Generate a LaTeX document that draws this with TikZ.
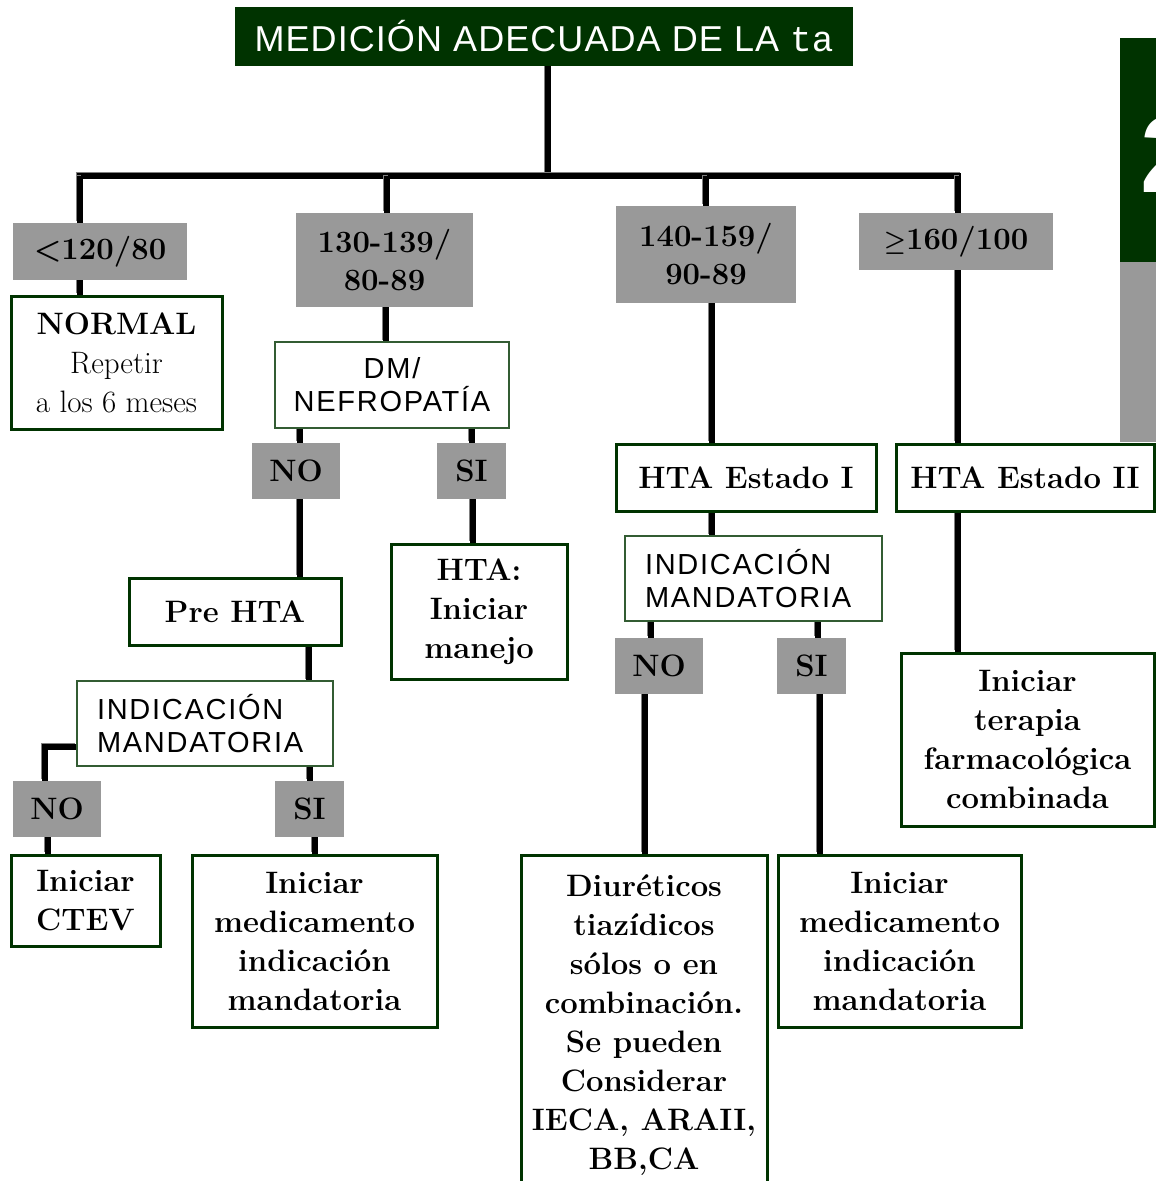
\documentclass[tikz,border=0pt]{standalone}
\usepackage{fontspec}
\setsansfont{Liberation Sans}
\setmonofont{Liberation Mono}
\newfontfamily\labsans[LetterSpace=6]{Liberation Sans}
\newfontfamily\titlesans[LetterSpace=3]{Liberation Sans}
\definecolor{dkgreen}{HTML}{003300}
\definecolor{gbox}{HTML}{999999}
\pgfdeclarelayer{back}
\pgfdeclarelayer{bg}
\pgfsetlayers{back,bg,main}
\begin{document}
\begin{tikzpicture}[x=1pt,y=-1pt,
 graybox/.style={fill=gbox, draw=none, inner sep=0pt, align=center, font=\fontsize{31}{38}\selectfont\bfseries},
 thickbox/.style={draw=dkgreen, line width=3pt, fill=white, inner sep=0pt, align=center, font=\fontsize{31}{39}\selectfont\bfseries},
 thinbox/.style={draw=dkgreen!80!white, line width=1.5pt, fill=white, inner sep=0pt, font=\labsans\fontsize{29}{33}\selectfont},
 conn/.style={line width=5.5pt, black, line join=miter, preaction={draw=gray, line width=5.5pt, transform canvas={xshift=-1.5pt,yshift=1.5pt}}},
]
\clip (0,0) rectangle (1156,1181);
\begin{pgfonlayer}{back}
\fill[white] (0,0) rectangle (1156,1181);
\end{pgfonlayer}

% right edge decoration
\fill[dkgreen] (1120,38) rectangle (1156,262);
\fill[gbox] (1120,262) rectangle (1156,442);
\begin{scope}
\clip (1120,38) rectangle (1156,262);
\node[anchor=west, text=white, inner sep=0pt, font=\sffamily\bfseries\fontsize{109}{109}\selectfont] (two) at (1140,154) {2};
\end{scope}

% title
\node[fill=dkgreen, minimum width=618pt, minimum height=59pt, inner sep=0pt, text=white, font=\titlesans\fontsize{36}{40}\selectfont] (title) at (544,36.5) {MEDICIÓN ADECUADA DE LA {\ttfamily ta}};

% gray range boxes
\node[graybox, minimum width=174pt, minimum height=57pt] (g1) at (100,251.5) {<120/80};
\node[graybox, minimum width=177pt, minimum height=94pt] (g2) at (384.5,260) {130-139/\\80-89};
\node[graybox, minimum width=180pt, minimum height=97pt] (g3) at (706,254.5) {140-159/\\90-89};
\node[graybox, minimum width=194pt, minimum height=57pt] (g4) at (956,241.5) {{\boldmath$\geq$}160/100};

% NO / SI boxes
\node[graybox, minimum width=88pt, minimum height=56pt] (no1) at (296,471) {NO};
\node[graybox, minimum width=69pt, minimum height=56pt] (si1) at (471.5,471) {SI};
\node[graybox, minimum width=88pt, minimum height=56pt] (no2) at (57,809) {NO};
\node[graybox, minimum width=69pt, minimum height=56pt] (si2) at (309.5,809) {SI};
\node[graybox, minimum width=88pt, minimum height=56pt] (no3) at (659,666) {NO};
\node[graybox, minimum width=69pt, minimum height=56pt] (si3) at (811.5,666) {SI};

% thick bordered boxes
\node[thickbox, minimum width=211pt, minimum height=133pt] (normal) at (116.5,362.5) {NORMAL\\{\mdseries Repetir}\\{\mdseries a los 6 meses}};
\node[thickbox, minimum width=176pt, minimum height=135pt] (htaman) at (479,611.5) {HTA:\\Iniciar\\manejo};
\node[thickbox, minimum width=212pt, minimum height=67pt] (prehta) at (235,611.5) {Pre HTA};
\node[thickbox, minimum width=149pt, minimum height=91pt] (ctev) at (85.5,900.5) {Iniciar\\CTEV};
\node[thickbox, minimum width=245pt, minimum height=172pt] (med1) at (314.5,941) {Iniciar\\medicamento\\indicación\\mandatoria};
\node[thickbox, minimum width=260pt, minimum height=67pt] (est1) at (746,477.5) {HTA Estado I};
\node[thickbox, minimum width=258pt, minimum height=67pt] (est2) at (1025,477.5) {HTA Estado II};
\node[thickbox, minimum width=246pt, minimum height=340pt] (diur) at (644,1025) {Diuréticos\\tiazídicos\\sólos o en\\combinación.\\Se pueden\\Considerar\\IECA, ARAII,\\BB,CA};
\node[thickbox, minimum width=243pt, minimum height=172pt] (med2) at (899.5,941) {Iniciar\\medicamento\\indicación\\mandatoria};
\node[thickbox, minimum width=253pt, minimum height=173pt] (ter) at (1027.5,739.5) {Iniciar\\terapia\\farmacológica\\combinada};

% thin bordered boxes
\node[thinbox, minimum width=234pt, minimum height=86pt, align=center] (dm) at (392,385) {DM/\\NEFROPATÍA};
\node[thinbox, minimum width=256pt, minimum height=85pt, text width=216pt, align=left] (ind1) at (205,723.5) {INDICACIÓN\\MANDATORIA};
\node[thinbox, minimum width=257pt, minimum height=85pt, text width=217pt, align=left] (ind2) at (753.5,578.5) {INDICACIÓN\\MANDATORIA};

% connectors
\coordinate (jt) at (548,176);
\coordinate (jl) at (77,176);
\coordinate (jr) at (961,176);
\coordinate (j1) at (80,176);
\coordinate (j2) at (387,176);
\coordinate (j3) at (706,176);
\coordinate (j4) at (958,176);
\begin{pgfonlayer}{bg}
\draw[conn] (title.south -| jt) -- (jt);
\draw[conn] (jl) -- (jr);
\draw[conn] (j1) -- (j1 |- g1.north);
\draw[conn] (j2) -- (j2 |- g2.north);
\draw[conn] (j3) -- (j3 |- g3.north);
\draw[conn] (j4) -- (j4 |- g4.north);
\draw[conn] (g1.south -| 80,0) -- (normal.north -| 80,0);
\draw[conn] (g2.south -| 386,0) -- (dm.north -| 386,0);
\draw[conn] (dm.south -| 300,0) -- (no1.north -| 300,0);
\draw[conn] (no1.south -| 300,0) -- (prehta.north -| 300,0);
\draw[conn] (dm.south -| 472,0) -- (si1.north -| 472,0);
\draw[conn] (si1.south -| 473,0) -- (htaman.north -| 473,0);
\draw[conn] (prehta.south -| 309,0) -- (ind1.north -| 309,0);
\draw[conn] (ind1.west |- 0,747) -| (no2.north -| 45,0);
\draw[conn] (no2.south -| 48,0) -- (ctev.north -| 48,0);
\draw[conn] (ind1.south -| 310,0) -- (si2.north -| 310,0);
\draw[conn] (si2.south -| 315,0) -- (med1.north -| 315,0);
\draw[conn] (g3.south -| 712,0) -- (est1.north -| 712,0);
\draw[conn] (est1.south -| 712,0) -- (ind2.north -| 712,0);
\draw[conn] (ind2.south -| 651,0) -- (no3.north -| 651,0);
\draw[conn] (no3.south -| 645,0) -- (diur.north -| 645,0);
\draw[conn] (ind2.south -| 818,0) -- (si3.north -| 818,0);
\draw[conn] (si3.south -| 820,0) -- (med2.north -| 820,0);
\draw[conn] (g4.south -| 958,0) -- (est2.north -| 958,0);
\draw[conn] (est2.south -| 958,0) -- (ter.north -| 958,0);
\end{pgfonlayer}
\end{tikzpicture}
\end{document}
